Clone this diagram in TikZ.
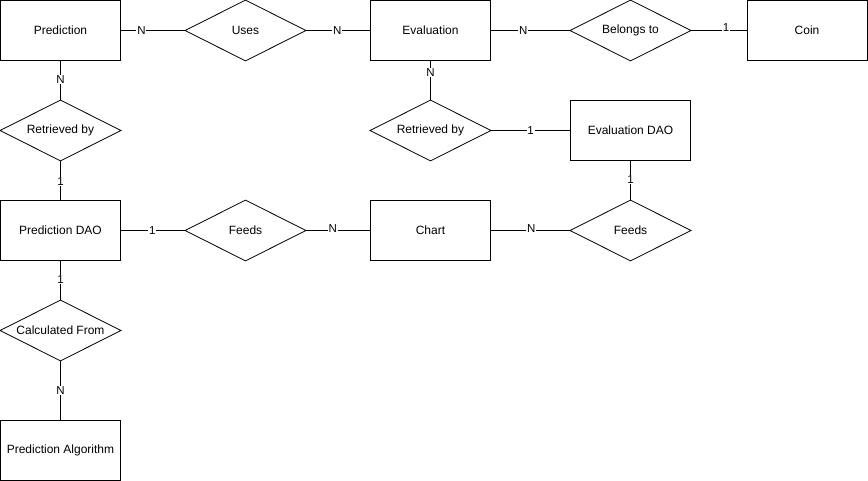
\documentclass[tikz,border=0pt]{standalone}
\usepackage{fontspec}
\setmainfont{Liberation Sans}
\begin{document}
\begin{tikzpicture}[x=1pt,y=-1pt,
  line width=0.8pt,
  entity/.style={draw, rectangle, minimum width=120pt, minimum height=60pt, inner sep=0pt, font=\fontsize{12}{14}\selectfont},
  rel/.style={rectangle, minimum width=120pt, minimum height=60pt, inner sep=0pt, font=\fontsize{12}{14}\selectfont},
  card/.style={fill=white, inner sep=0.8pt, font=\fontsize{11.5}{13}\selectfont},
]
\useasboundingbox (0,0) rectangle (868,481);
% entities
\node[entity] (pred) at (60.5,30.5) {Prediction};
\node[entity] (eval) at (430.5,30.5) {Evaluation};
\node[entity] (coin) at (807,30.5) {Coin};
\node[entity] (edao) at (630.5,130.5) {Evaluation DAO};
\node[entity] (pdao) at (60.5,230.5) {Prediction DAO};
\node[entity] (chart) at (430.5,230.5) {Chart};
\node[entity] (palg) at (60.5,450.5) {Prediction Algorithm};
% relationships
\node[rel] (uses) at (245.5,30.5) {Uses};
\node[rel] (belongs) at (630.5,30.5) {Belongs to};
\node[rel] (retl) at (60.5,130.5) {Retrieved by};
\node[rel] (retr) at (430.5,130.5) {Retrieved by};
\node[rel] (feedl) at (245.5,230.5) {Feeds};
\node[rel] (feedr) at (630.5,230.5) {Feeds};
\node[rel] (calc) at (60.5,330.5) {Calculated From};
\foreach \n in {uses,belongs,retl,retr,feedl,feedr,calc}{
  \draw (\n.north) -- (\n.east) -- (\n.south) -- (\n.west) -- cycle;
}
% connectors
\draw (pred.east) -- node[card,pos=0.32] {N} (uses.west);
\draw (uses.east) -- node[card,pos=0.49] {N} (eval.west);
\draw (eval.east) -- node[card,pos=0.41] {N} (belongs.west);
\draw (belongs.east) -- node[card,pos=0.63,yshift=3pt] {1} (coin.west);
\draw (pred.south) -- node[card,pos=0.48] {N} (retl.north);
\draw (retl.south) -- node[card,pos=0.52] {1} (pdao.north);
\draw (pdao.east) -- node[card,pos=0.49] {1} (feedl.west);
\draw (feedl.east) -- node[card,pos=0.42,yshift=2pt] {N} (chart.west);
\draw (eval.south) -- node[card,pos=0.3] {N} (retr.north);
\draw (retr.east) -- node[card,pos=0.5] {1} (edao.west);
\draw (edao.south) -- node[card,pos=0.48] {1} (feedr.north);
\draw (chart.east) -- node[card,pos=0.51,yshift=2pt] {N} (feedr.west);
\draw (pdao.south) -- node[card,pos=0.48] {1} (calc.north);
\draw (calc.south) -- node[card,pos=0.5] {N} (palg.north);
\end{tikzpicture}
\end{document}
